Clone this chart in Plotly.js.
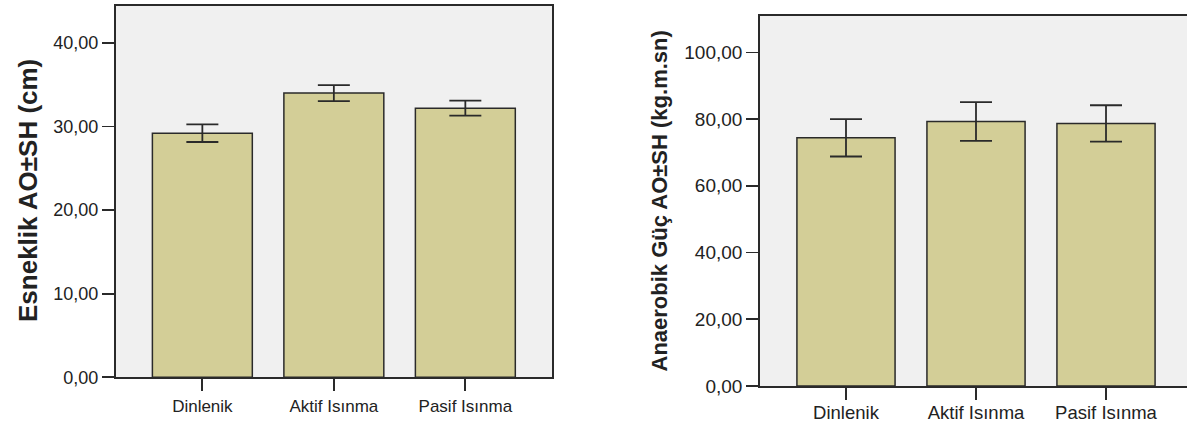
<!DOCTYPE html>
<html>
<head>
<meta charset="utf-8">
<script src="https://cdn.plot.ly/plotly-3.0.1.min.js"></script>
<style>html,body{margin:0;padding:0;background:#fff;overflow:hidden}#chart{width:1187px;height:426px}</style>
</head>
<body>
<div id="chart"></div>
<script>
// Data
const categories = ["Dinlenik", "Aktif Isınma", "Pasif Isınma"];
const esneklikMean = [29.2, 34.0, 32.2];
const esneklikSE = [1.05, 0.95, 0.9];
const anaerobikMean = [74.4, 79.3, 78.7];
const anaerobikSE = [5.6, 5.8, 5.45];
const leftTitle = "Esneklik AO±SH (cm)";
const rightTitle = "Anaerobik Güç AO±SH (kg.m.sn)";

const W = 1187, H = 426;
const barFill = "#d3ce97";
const dark = "#2a2a2a";
const font = "Liberation Sans, Arial, sans-serif";

const traces = [
  {
    type: "bar", x: categories, y: esneklikMean, xaxis: "x", yaxis: "y",
    width: 0.76,
    marker: {color: barFill, line: {color: dark, width: 1.5}},
    error_y: {type: "data", array: esneklikSE, visible: true, color: dark, thickness: 1.8, width: 16},
    hoverinfo: "none", showlegend: false
  },
  {
    type: "bar", x: categories, y: anaerobikMean, xaxis: "x2", yaxis: "y2",
    width: 0.755,
    marker: {color: barFill, line: {color: dark, width: 1.5}},
    error_y: {type: "data", array: anaerobikSE, visible: true, color: dark, thickness: 1.8, width: 16},
    hoverinfo: "none", showlegend: false
  }
];

const axisCommon = {
  showline: true, linecolor: dark, linewidth: 1.8,
  showgrid: false, zeroline: false,
  ticks: "outside", ticklen: 12, tickwidth: 1.8, tickcolor: dark,
  fixedrange: true
};

const layout = {
  width: W, height: H,
  margin: {l: 0, r: 0, t: 0, b: 0},
  paper_bgcolor: "#ffffff",
  plot_bgcolor: "#f0f0f0",
  separators: ",.",
  font: {family: font, color: "#222"},
  xaxis: Object.assign({}, axisCommon, {
    domain: [115.7 / W, 552 / W], range: [-0.659, 2.659], mirror: true,
    anchor: "y", tickfont: {size: 17, family: font, color: "#222"}
  }),
  yaxis: Object.assign({}, axisCommon, {
    domain: [1 - 377.3 / H, 1 - 6 / H], range: [0, 44.42], mirror: true,
    anchor: "x", dtick: 10, tickformat: ".2f",
    tickfont: {size: 18, family: font, color: "#222"}
  }),
  xaxis2: Object.assign({}, axisCommon, {
    domain: [760 / W, 1], range: [-0.6615, 2.623], mirror: true,
    anchor: "y2", ticklabelstandoff: -3,
    tickfont: {size: 18.5, family: font, color: "#222"}
  }),
  yaxis2: Object.assign({}, axisCommon, {
    domain: [1 - 386 / H, 1 - 15.7 / H], range: [0, 111.0], mirror: false,
    anchor: "x2", dtick: 20, tickformat: ".2f",
    tickfont: {size: 19, family: font, color: "#222"}
  }),
  annotations: [
    {text: "<b>" + leftTitle + "</b>", xref: "paper", yref: "paper",
     x: 28 / W, y: 1 - 191 / H, showarrow: false, textangle: -90,
     xanchor: "center", yanchor: "middle",
     font: {size: 26, family: font, color: "#222"}},
    {text: "<b>" + rightTitle + "</b>", xref: "paper", yref: "paper",
     x: 659 / W, y: 1 - 201.5 / H, showarrow: false, textangle: -90,
     xanchor: "center", yanchor: "middle",
     font: {size: 22, family: font, color: "#222"}}
  ]
};

Plotly.newPlot("chart", traces, layout, {staticPlot: true, displayModeBar: false});
</script>
</body>
</html>
